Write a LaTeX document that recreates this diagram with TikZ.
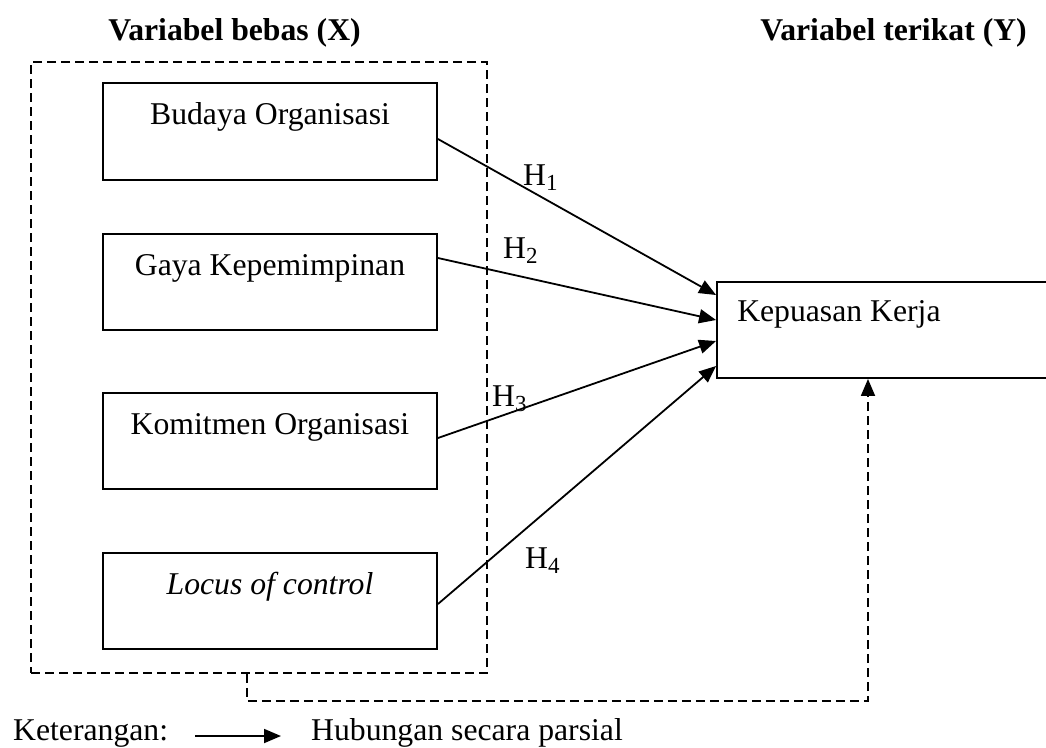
\documentclass[tikz,border=0pt]{standalone}
\usepackage{fontspec}
\setmainfont{Liberation Serif}
\usetikzlibrary{arrows.meta}
\newcommand{\hsub}[1]{\raisebox{-5pt}{\fontsize{23}{26}\selectfont #1}}
\tikzset{
  varbox/.style={draw, line width=1.9pt, minimum width=334pt, minimum height=96pt, inner sep=0pt},
  grpbox/.style={draw, line width=1.8pt, dash pattern=on 9pt off 5pt, minimum width=456pt, minimum height=611pt, inner sep=0pt},
  conn/.style={line width=1.8pt, -{Triangle[length=17pt,width=14pt]}},
  dconn/.style={line width=1.8pt, dash pattern=on 9pt off 5pt, -{Triangle[length=17pt,width=14pt]}},
  txt/.style={font=\fontsize{31.7}{38}\selectfont, inner sep=0pt},
  boxlabel/.style={txt, anchor=base, yshift=-42pt},
}
\begin{document}
\begin{tikzpicture}[x=1pt, y=-1pt]
\useasboundingbox (0,0) rectangle (1046,747);
\clip (0,0) rectangle (1046,747);
% titles
\node[txt, anchor=base, font=\fontsize{31.7}{38}\selectfont\bfseries] (tx) at (234.5,40) {Variabel bebas (X)};
\node[txt, anchor=base, font=\fontsize{31.7}{38}\selectfont\bfseries] (ty) at (893.5,40) {Variabel terikat (Y)};
% group
\node[grpbox] (grp) at (259,367.5) {};
% boxes
\node[varbox, minimum height=97pt, label={[boxlabel]north:Budaya Organisasi}] (b1) at (270,131.5) {};
\node[varbox, label={[boxlabel]north:Gaya Kepemimpinan}] (b2) at (270,282) {};
\node[varbox, label={[boxlabel]north:Komitmen Organisasi}] (b3) at (270,441) {};
\node[varbox, label={[boxlabel]north:\textit{Locus of control}}] (b4) at (270,601) {};
% dependent
\node[varbox, minimum width=343pt, label={[txt, anchor=base west, xshift=21pt, yshift=-40pt]north west:Kepuasan Kerja}] (ky) at (888.5,330) {};
% arrows
\draw[conn] ([yshift=-7.5pt]b1.east) -- ([yshift=35pt]ky.west);
\draw[conn] ([yshift=24pt]b2.east) -- ([yshift=10pt]ky.west);
\draw[conn] ([yshift=3pt]b3.east) -- ([yshift=-11pt]ky.west);
\draw[conn] ([yshift=-3pt]b4.east) -- ([yshift=-36pt]ky.west);
% labels
\node[txt, anchor=base west] (h1) at (523,185) {H\hsub{1}};
\node[txt, anchor=base west] (h2) at (503,258) {H\hsub{2}};
\node[txt, anchor=base west] (h3) at (492,406) {H\hsub{3}};
\node[txt, anchor=base west] (h4) at (525,568) {H\hsub{4}};
% dashed connector
\draw[dconn] ([xshift=-12pt]grp.south) |- (868,701) -- (ky.south -| 868,0);
% legend
\node[txt, anchor=base west] (ket) at (13,740) {Keterangan:};
\coordinate (la) at (195,736);
\coordinate (lb) at (281,736);
\draw[conn] (la) -- (lb);
\node[txt, anchor=base west] (hub) at (311,740) {Hubungan secara parsial};
\end{tikzpicture}
\end{document}
